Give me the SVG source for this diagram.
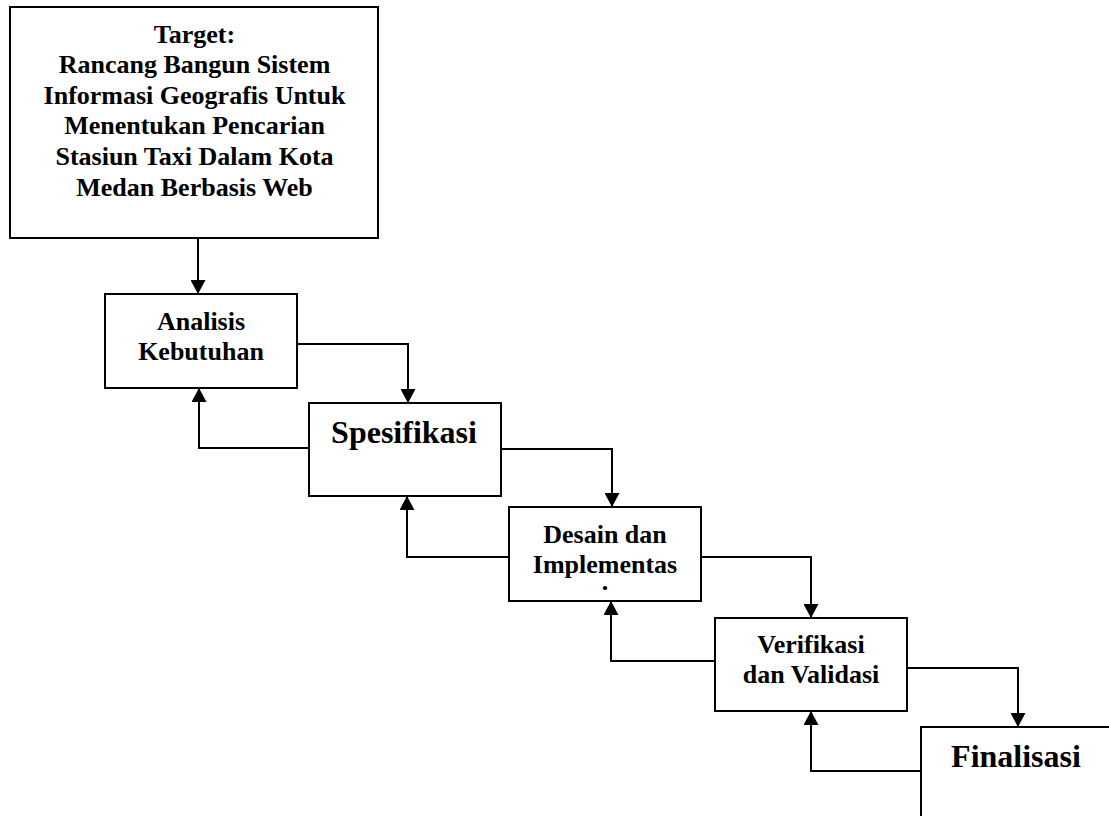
<svg xmlns="http://www.w3.org/2000/svg" width="1109" height="816" viewBox="0 0 1109 816">
<style>
.box{fill:#fff;stroke:#000;stroke-width:2}
.t{font-family:"Liberation Serif","Times New Roman",serif;font-weight:bold;font-size:26px;fill:#000;text-anchor:middle}
.big{font-size:32px}
.c{fill:none;stroke:#000;stroke-width:2;marker-end:url(#ah)}
</style>
<defs>
<marker id="ah" markerUnits="userSpaceOnUse" markerWidth="14" markerHeight="15" refX="14" refY="7.5" orient="auto" viewBox="0 0 14 15">
<path d="M0,0 L14,7.5 L0,15 z" fill="#000"/>
</marker>
</defs>
<rect width="1109" height="816" fill="#fff"/>
<g id="target">
<rect class="box" x="10" y="7" width="368" height="231"/>
<text class="t" x="194.5" y="43">Target:</text>
<text class="t" x="194.5" y="73">Rancang Bangun Sistem</text>
<text class="t" x="194.5" y="103.5">Informasi Geografis Untuk</text>
<text class="t" x="194.5" y="134">Menentukan Pencarian</text>
<text class="t" x="194.5" y="165">Stasiun Taxi Dalam Kota</text>
<text class="t" x="194.5" y="196">Medan Berbasis Web</text>
</g>
<g id="analisis">
<rect class="box" x="105" y="294" width="192" height="94"/>
<text class="t" x="201" y="330">Analisis</text>
<text class="t" x="201" y="360">Kebutuhan</text>
</g>
<g id="spesifikasi">
<rect class="box" x="309" y="403" width="192" height="93"/>
<text class="t big" x="404" y="443">Spesifikasi</text>
</g>
<g id="desain">
<rect class="box" x="509" y="507" width="192" height="94"/>
<text class="t" x="605" y="543">Desain dan</text>
<text class="t" x="605" y="573">Implementas</text>
<text class="t" x="605" y="590">.</text>
</g>
<g id="verifikasi">
<rect class="box" x="715" y="618" width="192" height="93"/>
<text class="t" x="811" y="653">Verifikasi</text>
<text class="t" x="811" y="683">dan Validasi</text>
</g>
<g id="finalisasi">
<rect class="box" x="921" y="727" width="300" height="200"/>
<text class="t big" x="1016" y="767">Finalisasi</text>
</g>
<g id="connectors">
<path class="c" d="M198,238 V294"/>
<path class="c" d="M297,344 H408 V403"/>
<path class="c" d="M309,448 H199 V388"/>
<path class="c" d="M501,449 H612 V507"/>
<path class="c" d="M509,557 H407 V496"/>
<path class="c" d="M701,557 H811 V618"/>
<path class="c" d="M715,661 H611 V601"/>
<path class="c" d="M907,668 H1018 V727"/>
<path class="c" d="M921,771 H811 V711"/>
</g>
</svg>
